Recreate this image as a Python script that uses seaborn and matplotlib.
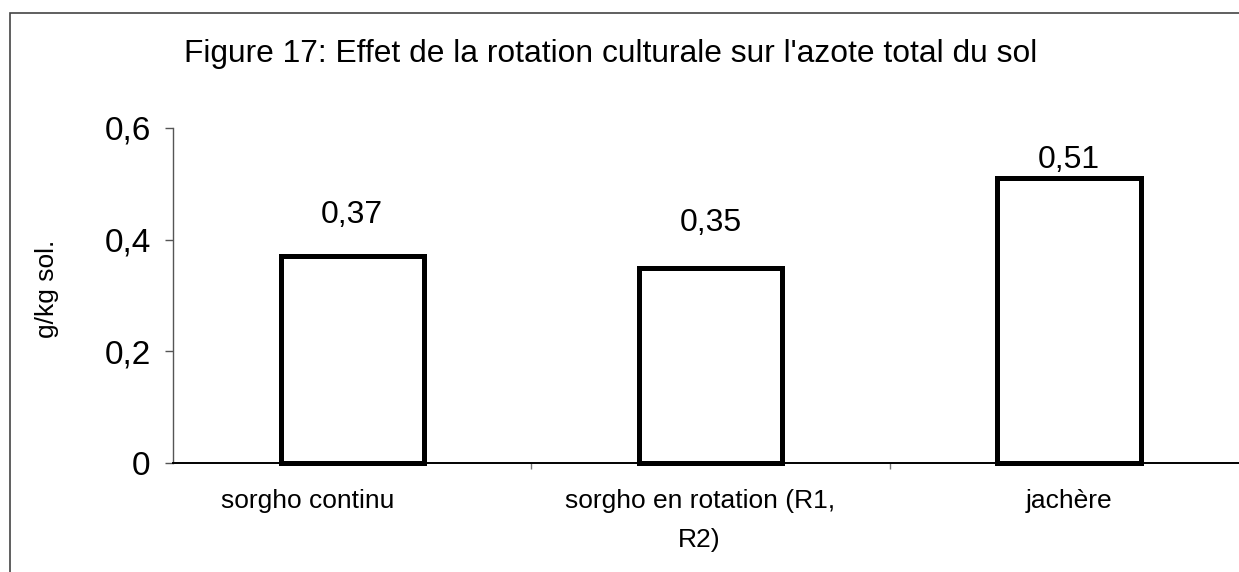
import matplotlib
matplotlib.use("Agg")
import matplotlib.pyplot as plt
import seaborn as sns
from matplotlib.patches import Rectangle
from matplotlib.ticker import FuncFormatter

# donnees
categories = ["sorgho continu", "sorgho en rotation (R1,\nR2)", "jachère"]
valeurs = [0.37, 0.35, 0.51]
y_ticks = [0, 0.2, 0.4, 0.6]
titre = "Figure 17: Effet de la rotation culturale sur l'azote total du sol"
y_label = "g/kg sol."

# decalages des etiquettes (points), comme dans l'original Excel
label_dy = [30, 32, 13]
xlabel_dx = [-32, -8, 0]

sns.set_style("white")
plt.rcParams['font.family'] = ['Liberation Sans', 'DejaVu Sans']
plt.rcParams.update({"text.color": "black", "axes.labelcolor": "black",
                     "xtick.color": "black", "ytick.color": "black"})

fig = plt.figure(figsize=(12.39, 5.72), dpi=100)
ax = fig.add_axes([0.1396, 0.1906, 0.868, 0.5857])

sns.barplot(x=categories, y=valeurs, color="white", saturation=1,
            edgecolor="black", linewidth=3.6, width=0.40, ax=ax)
for p in ax.patches:
    p.set_clip_on(False)

ax.set_xlim(-0.5, 2.5)
ax.set_ylim(0, 0.6)
ax.set_yticks(y_ticks)
ax.yaxis.set_major_formatter(FuncFormatter(lambda v, pos: f"{v:g}".replace(".", ",")))
ax.tick_params(axis="y", direction="out", length=6, width=1, color="#555555",
               labelsize=24, pad=10, left=True)

# etiquettes de categories placees sous l'axe
ax.set_xticks([])
ax.set_xticks([0.5, 1.5], minor=True)
ax.tick_params(axis="x", which="minor", direction="out", length=4, width=1,
               color="#777777", bottom=True)
for i, cat in enumerate(categories):
    ax.annotate(cat, xy=(i, 0), xycoords=("data", "axes fraction"),
                xytext=(xlabel_dx[i], -19), textcoords="offset points",
                ha="center", va="top", fontsize=19,
                multialignment="center", linespacing=1.75)
ax.set_xlabel("")

# valeurs au-dessus des barres
for i, v in enumerate(valeurs):
    ax.annotate(f"{v:.2f}".replace(".", ","), xy=(i, v), xytext=(0, label_dy[i]),
                textcoords="offset points", ha="center", va="center", fontsize=23)

ax.set_ylabel(y_label, fontsize=19)
ax.yaxis.set_label_coords(-0.106, 0.52)

for s in ["top", "right"]:
    ax.spines[s].set_visible(False)
ax.spines["left"].set_color("#555555")
ax.spines["left"].set_linewidth(1)
ax.spines["bottom"].set_color("black")
ax.spines["bottom"].set_linewidth(1.4)

fig.text(0.493, 1 - 62 / 572, titre, ha="center", va="baseline", fontsize=22.9)

# cadre de la zone de graphique (coupe a droite et en bas)
fig.patches.append(Rectangle((10 / 1239, -0.2), 1.2, 1.2 - 13 / 572,
                             transform=fig.transFigure, fill=False,
                             edgecolor="#444444", linewidth=1.2))

fig.savefig("out.png", dpi=100)
